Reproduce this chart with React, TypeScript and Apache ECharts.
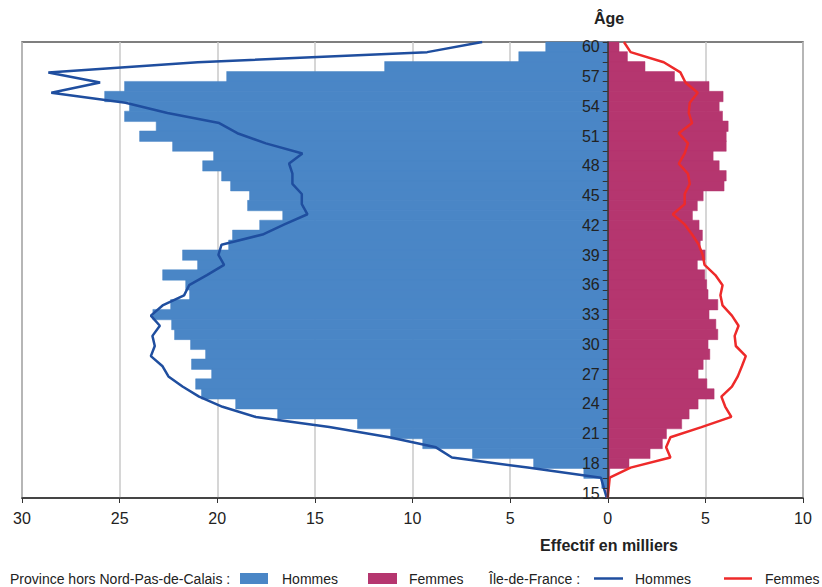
import React, { useEffect, useRef } from "react";
import * as echarts from "echarts";

const ages: number[] = [];
for (let a = 60; a >= 15; a--) ages.push(a);

// Province hors Nord-Pas-de-Calais (bars), ages 60 -> 15, in thousands
const provinceHommes = [
  3.19, 4.57, 11.44, 19.53, 24.76,
  25.78, 24.51, 24.76, 23.14, 23.99,
  22.3, 20.2, 20.76, 19.79, 19.33,
  18.36, 18.46, 16.66, 17.84, 19.23,
  19.43, 21.79, 21.02, 22.81, 21.63,
  21.43, 22.4, 23.31, 22.35, 22.2,
  21.38, 20.61, 21.33, 20.3, 21.12,
  20.82, 19.07, 16.92, 12.83, 11.13,
  9.49, 6.94, 3.81, 1.24, 0.32,
  0.05,
];
const provinceFemmes = [
  0.59, 1.02, 1.92, 3.43, 5.2,
  5.92, 5.72, 5.89, 6.18, 6.08,
  6.08, 5.41, 5.72, 6.08, 5.97,
  4.9, 4.6, 4.35, 4.69, 4.86,
  4.75, 5.0, 4.6, 4.98, 5.08,
  5.15, 5.65, 5.2, 5.55, 5.65,
  5.15, 5.24, 4.9, 4.64, 5.09,
  5.46, 4.64, 4.18, 3.8, 3.02,
  2.81, 2.18, 1.1, 0.11, 0.03,
  0,
];
// Île-de-France (lines), ages 60 -> 15
const idfHommes = [
  6.43, 9.25, 21.0, 28.65, 26.0,
  28.5, 24.7, 22.55, 19.9, 18.97,
  17.51, 15.64, 16.32, 16.15, 16.15,
  15.67, 15.67, 15.38, 16.56, 17.68,
  19.78, 19.94, 19.65, 20.53, 21.44,
  21.7, 22.8, 23.4, 22.94, 23.32,
  23.2, 23.4, 22.8, 22.5, 21.78,
  20.93, 19.73, 18.02, 14.26, 11.19,
  8.8, 7.98, 4.1, 0.35, 0.2,
  0.05,
];
const idfFemmes = [
  0.83, 1.17, 2.87, 3.72, 3.98,
  4.61, 4.2, 4.15, 4.32, 3.64,
  4.11, 3.94, 3.64, 4.11, 4.2,
  3.94, 3.94, 3.33, 3.94, 4.32,
  4.66, 4.86, 4.96, 5.51, 5.88,
  5.77, 5.88, 6.36, 6.7, 6.5,
  6.56, 7.07, 6.87, 6.66, 6.36,
  5.82, 6.02, 6.33, 4.8, 3.21,
  2.99, 3.21, 1.17, 0.1, 0.05,
  0,
];

const FONT = "'Liberation Sans', Arial, sans-serif";
const BLUE = "#4a86c6";
const PINK = "#b5366f";
const DARKBLUE = "#1f4e9f";
const RED = "#ee2a2a";

const GRID_LEFT = 22;
const GRID_RIGHT = 19;
const CHART_W = 822;
const X_MIN = -30;
const X_MAX = 10;

export default function App() {
  const ref = useRef<HTMLDivElement>(null);
  useEffect(() => {
    if (!ref.current) return;
    const chart = echarts.init(ref.current, undefined, { renderer: "svg" });
    const cats = ages.map(String);
    const plotW = CHART_W - GRID_LEFT - GRID_RIGHT;
    const zeroOffset = ((0 - X_MIN) / (X_MAX - X_MIN)) * plotW;
    const txt = (text: string, x: number, y: number, extra: any = {}) => ({
      type: "text",
      x,
      y,
      style: {
        text,
        fill: "#222",
        fontSize: 14,
        fontFamily: FONT,
        textVerticalAlign: "middle",
        ...extra,
      },
    });
    const option: any = {
      animation: false,
      grid: {
        left: GRID_LEFT,
        right: GRID_RIGHT,
        top: 42,
        bottom: 89,
        show: true,
        borderColor: "#555",
        borderWidth: 1.5,
      },
      xAxis: {
        type: "value",
        min: X_MIN,
        max: X_MAX,
        interval: 5,
        axisLine: { show: true, onZero: false, lineStyle: { color: "#333", width: 1.5 } },
        axisTick: { show: true, length: 5, lineStyle: { color: "#333" } },
        axisLabel: {
          formatter: (v: number) => String(Math.abs(v)),
          color: "#222",
          fontSize: 16,
          margin: 12,
          fontFamily: FONT,
        },
        splitLine: { show: true, lineStyle: { color: "#c8c8c8", width: 1.5 } },
      },
      yAxis: [
        {
          type: "category",
          data: cats,
          inverse: true,
          boundaryGap: true,
          position: "left",
          offset: -zeroOffset,
          z: 10,
          axisLine: { show: true, onZero: false, lineStyle: { color: "#333", width: 1.5 } },
          axisTick: { show: true, interval: 0, length: 5, lineStyle: { color: "#333" } },
          axisLabel: { interval: 2, fontSize: 16, color: "#222", margin: 8, fontFamily: FONT },
          splitLine: { show: false },
          splitArea: { show: false },
        },
        {
          type: "category",
          data: cats,
          inverse: true,
          boundaryGap: false,
          show: false,
          axisLine: { show: false },
          axisTick: { show: false },
          axisLabel: { show: false },
          splitLine: { show: false },
          splitArea: { show: false },
        },
      ],
      series: [
        {
          name: "Province Hommes",
          type: "bar",
          stack: "pop",
          barWidth: "110%",
          itemStyle: { color: BLUE, borderColor: BLUE, borderWidth: 0.5 },
          data: provinceHommes.map((v) => -v),
          z: 2,
        },
        {
          name: "Province Femmes",
          type: "bar",
          stack: "pop",
          barWidth: "110%",
          itemStyle: { color: PINK, borderColor: PINK, borderWidth: 0.5 },
          data: provinceFemmes,
          z: 2,
        },
        {
          name: "IdF Hommes",
          type: "line",
          yAxisIndex: 1,
          showSymbol: false,
          lineStyle: { color: DARKBLUE, width: 2.5 },
          itemStyle: { color: DARKBLUE },
          data: idfHommes.map((v) => -v),
          z: 5,
        },
        {
          name: "IdF Femmes",
          type: "line",
          yAxisIndex: 1,
          showSymbol: false,
          lineStyle: { color: RED, width: 2.5 },
          itemStyle: { color: RED },
          data: idfFemmes,
          z: 5,
        },
      ],
      graphic: [
        txt("Âge", 609, 18, { fontSize: 16, fontWeight: "bold", textAlign: "center" }),
        txt("Effectif en milliers", 609, 545, { fontSize: 16, fontWeight: "bold", textAlign: "center" }),
        txt("Province hors Nord-Pas-de-Calais :", 10, 579),
        { type: "rect", shape: { x: 240, y: 573, width: 28, height: 11 }, style: { fill: BLUE } },
        txt("Hommes", 282, 579),
        { type: "rect", shape: { x: 368, y: 573, width: 29, height: 11 }, style: { fill: PINK } },
        txt("Femmes", 409, 579),
        txt("Île-de-France :", 489, 579),
        { type: "line", shape: { x1: 594, y1: 578.5, x2: 623, y2: 578.5 }, style: { stroke: DARKBLUE, lineWidth: 2.5 } },
        txt("Hommes", 635, 579),
        { type: "line", shape: { x1: 724, y1: 578.5, x2: 752, y2: 578.5 }, style: { stroke: RED, lineWidth: 2.5 } },
        txt("Femmes", 765, 579),
      ],
    };
    chart.setOption(option);
    return () => chart.dispose();
  }, []);
  return (
    <div
      ref={ref}
      style={{ position: "absolute", left: 0, top: 0, width: 822, height: 587, background: "#fff" }}
    />
  );
}
